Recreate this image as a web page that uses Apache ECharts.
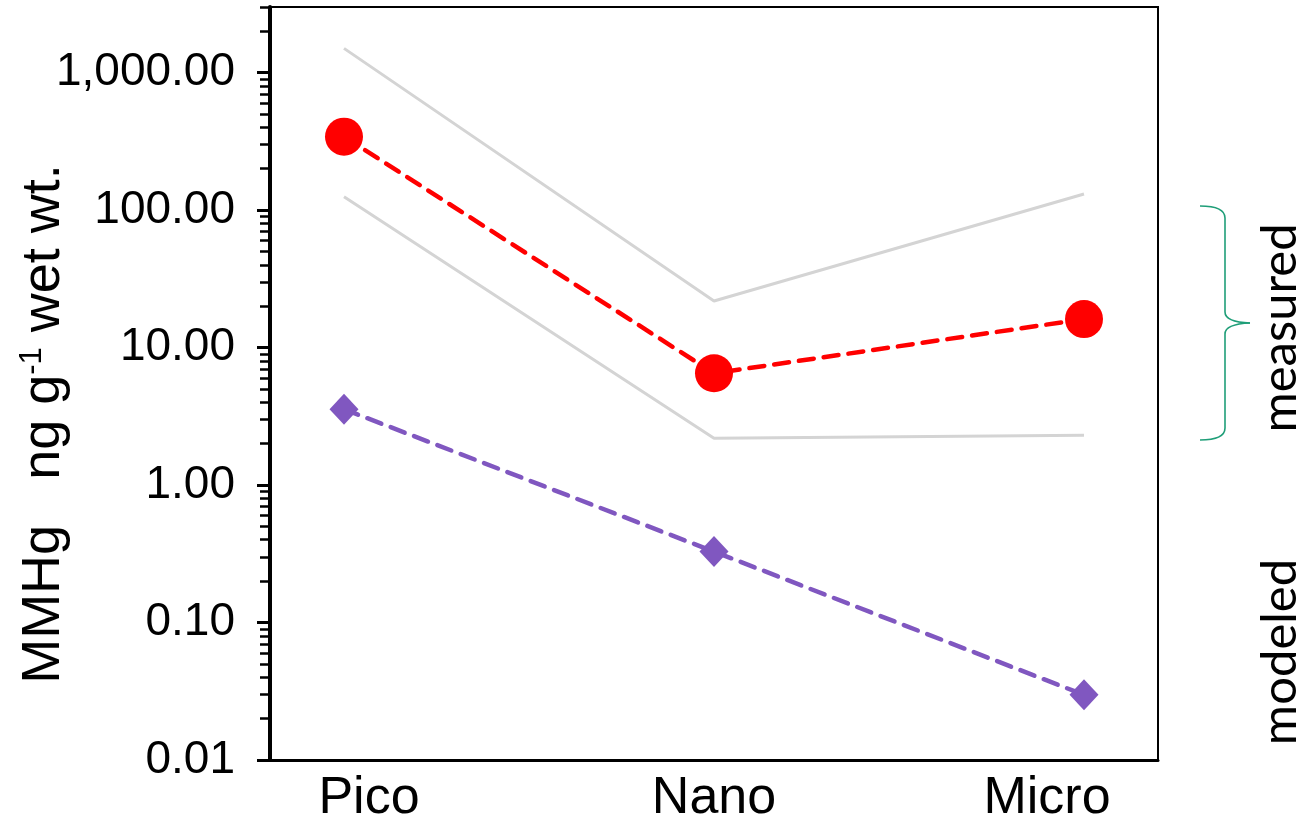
<!DOCTYPE html>
<html>
<head>
<meta charset="utf-8">
<script src="https://cdn.jsdelivr.net/npm/echarts@6/dist/echarts.min.js"></script>
<style>
html,body{margin:0;padding:0;background:#fff;}
#chart{width:1314px;height:832px;}
</style>
</head>
<body>
<div id="chart"></div>
<script>
// ---- data ----
const categories = ['Pico', 'Nano', 'Micro'];
const measuredMean = [342, 6.5, 16.1];
const measuredUpper = [1500, 21.8, 131];
const measuredLower = [125, 2.19, 2.3];
const modeled = [3.56, 0.328, 0.0298];
const majorTicks = [0.01, 0.1, 1, 10, 100, 1000];
const yMin = 0.01;
const yMax = 3000;
const minorTicks = [];
majorTicks.forEach(function (d) {
  for (let k = 2; k <= 9; k++) {
    const v = +(d * k).toPrecision(3);
    if (v <= yMax) minorTicks.push(v);
  }
});

const pairs = arr => arr.map((v, i) => [i, v]);
const FONT = "'Liberation Sans', Arial, Helvetica, sans-serif";
const BRACE = {stroke: '#1f9e78', lineWidth: 1.6, fill: null};

const chart = echarts.init(document.getElementById('chart'), null, {renderer: 'canvas'});
chart.setOption({
  animation: false,
  backgroundColor: '#fff',
  grid: {left: 270, right: 156, top: 7, bottom: 72, show: true, borderColor: '#000', borderWidth: 2, backgroundColor: 'transparent'},
  xAxis: {
    type: 'value', min: -0.2, max: 2.2,
    axisLine: {show: true, onZero: false, lineStyle: {color: '#000', width: 3}},
    axisTick: {show: false},
    splitLine: {show: false},
    axisLabel: {
      customValues: [0, 1, 2],
      formatter: v => { const i = Math.round(v); return '{c' + i + '|' + categories[i] + '}'; },
      color: '#000', fontSize: 52, fontFamily: FONT, margin: 13,
      rich: {
        c0: {fontSize: 52, fontFamily: FONT, color: '#000', padding: [0, 0, 0, 50]},
        c1: {fontSize: 52, fontFamily: FONT, color: '#000'},
        c2: {fontSize: 52, fontFamily: FONT, color: '#000', padding: [0, 74, 0, 0]}
      }
    }
  },
  yAxis: [{
    type: 'log', logBase: 10, min: yMin, max: yMax, position: 'left',
    axisLine: {show: true, onZero: false, lineStyle: {color: '#000', width: 4}},
    axisTick: {show: true, inside: false, length: 13, customValues: majorTicks, lineStyle: {color: '#000', width: 3}},
    splitLine: {show: false},
    axisLabel: {
      customValues: majorTicks,
      formatter: v => Number(v).toLocaleString('en-US', {minimumFractionDigits: 2, maximumFractionDigits: 2}),
      color: '#000', fontSize: 46, fontFamily: FONT, margin: 35
    }
  }, {
    // helper axis in log10 units, used only to place the minor ticks of the log axis
    type: 'value', min: Math.log10(yMin), max: Math.log10(yMax), position: 'left',
    axisLine: {show: false, onZero: false},
    axisTick: {show: true, inside: false, length: 10, customValues: minorTicks.map(v => Math.log10(v)), lineStyle: {color: '#000', width: 2.5}},
    splitLine: {show: false},
    axisLabel: {show: false}
  }],
  series: [{
    type: 'line', data: pairs(measuredUpper), symbol: 'none',
    lineStyle: {color: '#d4d4d4', width: 3}, z: 1
  }, {
    type: 'line', data: pairs(measuredLower), symbol: 'none',
    lineStyle: {color: '#d4d4d4', width: 3}, z: 1
  }, {
    type: 'line', data: pairs(measuredMean), symbol: 'circle', symbolSize: 38,
    itemStyle: {color: '#ff0000'},
    lineStyle: {color: '#ff0000', width: 4.5, type: [15, 10], cap: 'round'}, z: 3
  }, {
    type: 'line', data: pairs(modeled), symbol: 'diamond', symbolSize: [29, 31],
    itemStyle: {color: '#8057c0'},
    lineStyle: {color: '#8057c0', width: 4.5, type: [15, 10], cap: 'round'}, z: 3
  }],
  graphic: [{
    type: 'text', x: 44, y: 424, rotation: Math.PI / 2,
    style: {
      text: 'MMHg   ng g{sup|-1} wet wt.',
      font: '54px ' + FONT, fill: '#000', align: 'center', verticalAlign: 'middle',
      rich: {sup: {fontSize: 31, fontFamily: FONT, verticalAlign: 'top', fill: '#000'}}
    }
  },
  {type: 'bezierCurve', shape: {x1: 1200, y1: 206, cpx1: 1225, cpy1: 206, x2: 1225, y2: 218}, style: BRACE},
  {type: 'line', shape: {x1: 1225, y1: 218, x2: 1225, y2: 312}, style: BRACE},
  {type: 'bezierCurve', shape: {x1: 1225, y1: 312, cpx1: 1225, cpy1: 322, x2: 1250, y2: 323}, style: BRACE},
  {type: 'bezierCurve', shape: {x1: 1250, y1: 323, cpx1: 1225, cpy1: 324, x2: 1225, y2: 334}, style: BRACE},
  {type: 'line', shape: {x1: 1225, y1: 334, x2: 1225, y2: 428}, style: BRACE},
  {type: 'bezierCurve', shape: {x1: 1225, y1: 428, cpx1: 1225, cpy1: 440, x2: 1200, y2: 440}, style: BRACE},
  {
    type: 'text', x: 1280, y: 328, rotation: Math.PI / 2,
    style: {text: 'measured', font: '49px Lato, sans-serif', fill: '#000', align: 'center', verticalAlign: 'middle'}
  }, {
    type: 'text', x: 1280, y: 652, rotation: Math.PI / 2,
    style: {text: 'modeled', font: '49px Lato, sans-serif', fill: '#000', align: 'center', verticalAlign: 'middle'}
  }]
});
</script>
</body>
</html>
